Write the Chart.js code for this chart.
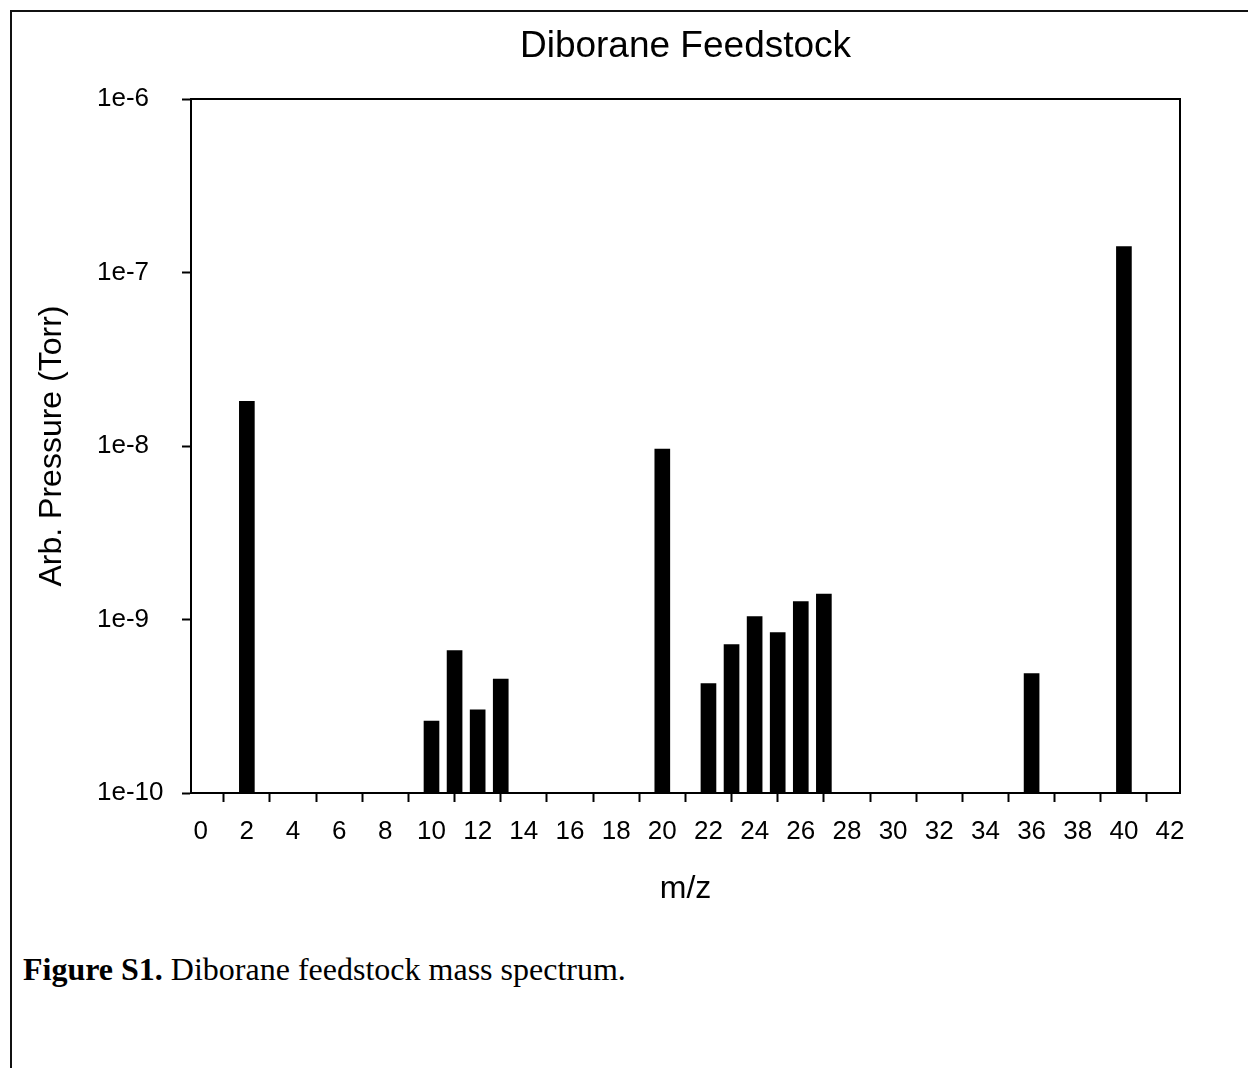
<!DOCTYPE html>
<html>
<head>
<meta charset="utf-8">
<title>Diborane Feedstock</title>
<script src="https://cdn.jsdelivr.net/npm/chart.js@4.4.1/dist/chart.umd.min.js"></script>
<style>
  body { margin: 0; background: #fff; }
  #frame {
    position: absolute; left: 10px; top: 10px; width: 1240px; height: 1060px;
    border-left: 2px solid #111; border-top: 2px solid #111;
  }
  #box { position: absolute; left: 0; top: 0; width: 1248px; height: 940px; }
  #caption {
    position: absolute; left: 23px; top: 953px;
    font-family: "Liberation Serif", "Times New Roman", serif;
    font-size: 32px; line-height: 32px; color: #000; white-space: nowrap;
  }
</style>
</head>
<body>
<div id="frame"></div>
<div id="box"><canvas id="myChart" width="1248" height="940"></canvas></div>
<div id="caption"><b>Figure S1.</b> Diborane feedstock mass spectrum.</div>
<script>
// m/z peaks and their partial pressures (Torr)
const massToCharge = [2, 10, 11, 12, 13, 20, 22, 23, 24, 25, 26, 27, 36, 40];
const pressure = [1.81e-8, 2.60e-10, 6.62e-10, 3.02e-10, 4.54e-10, 9.59e-9, 4.27e-10,
                  7.17e-10, 1.04e-9, 8.40e-10, 1.27e-9, 1.40e-9, 4.88e-10, 1.41e-7];

const xTicks = [0, 2, 4, 6, 8, 10, 12, 14, 16, 18, 20, 22, 24, 26, 28, 30, 32, 34, 36, 38, 40, 42];
const yTicks = [1e-10, 1e-9, 1e-8, 1e-7, 1e-6];
const yTickLabels = ['1e-10', '1e-9', '1e-8', '1e-7', '1e-6'];
const chartTitle = 'Diborane Feedstock';

const points = massToCharge.map((m, i) => ({ x: m, y: pressure[i] }));
const sans = 'Arial, "Liberation Sans", sans-serif';

// closes the plot box on the top and right sides, title centred over the plot
const boxPlugin = {
  id: 'plotBox',
  afterDraw(chart) {
    const { ctx, chartArea: a } = chart;
    ctx.save();
    ctx.strokeStyle = '#000';
    ctx.lineWidth = 2;
    ctx.beginPath();
    ctx.moveTo(a.left, a.top);
    ctx.lineTo(a.right, a.top);
    ctx.lineTo(a.right, a.bottom);
    ctx.stroke();

    ctx.fillStyle = '#000';
    ctx.font = '37px ' + sans;
    ctx.textAlign = 'center';
    ctx.textBaseline = 'middle';
    ctx.fillText(chartTitle, (a.left + a.right) / 2, 47);
    ctx.restore();
  }
};

const ctx = document.getElementById('myChart').getContext('2d');
const myChart = new Chart(ctx, {
  type: 'bar',
  data: {
    datasets: [{
      data: points,
      backgroundColor: '#000',
      borderWidth: 0,
      barThickness: 15
    }]
  },
  options: {
    responsive: false,
    animation: false,
    layout: { padding: { left: 97, top: 99, right: 68, bottom: 0 } },
    plugins: {
      legend: { display: false },
      tooltip: { enabled: false },
      title: { display: false }
    },
    scales: {
      x: {
        type: 'linear',
        min: -0.42,
        max: 42.43,
        offset: false,
        afterBuildTicks: s => { s.ticks = xTicks.map(v => ({ value: v })); },
        afterFit: s => { s.height = 147; },
        grid: { drawOnChartArea: false, drawTicks: true, tickLength: 9, tickColor: '#000', tickWidth: 2 },
        border: { display: true, color: '#000', width: 2 },
        ticks: {
          color: '#000', padding: 14, maxRotation: 0, autoSkip: false,
          font: { family: sans, size: 26 }
        },
        title: {
          display: true, text: 'm/z', color: '#000',
          font: { family: sans, size: 32 },
          padding: { top: 0, bottom: 31.8 }
        }
      },
      y: {
        type: 'logarithmic',
        min: 1e-10,
        max: 1e-6,
        afterBuildTicks: s => { s.ticks = yTicks.map(v => ({ value: v })); },
        afterFit: s => { s.width = 94; },
        grid: { drawOnChartArea: false, drawTicks: true, tickLength: 9, tickColor: '#000', tickWidth: 2 },
        border: { display: true, color: '#000', width: 2 },
        ticks: {
          color: '#000', padding: 31, autoSkip: false, crossAlign: 'far',
          font: { family: sans, size: 26 },
          callback: v => yTickLabels[yTicks.indexOf(v)]
        },
        title: {
          display: true, text: 'Arb. Pressure (Torr)', color: '#000',
          font: { family: sans, size: 32 },
          padding: { top: -64, bottom: 0 }
        }
      }
    }
  },
  plugins: [boxPlugin]
});
</script>
</body>
</html>
